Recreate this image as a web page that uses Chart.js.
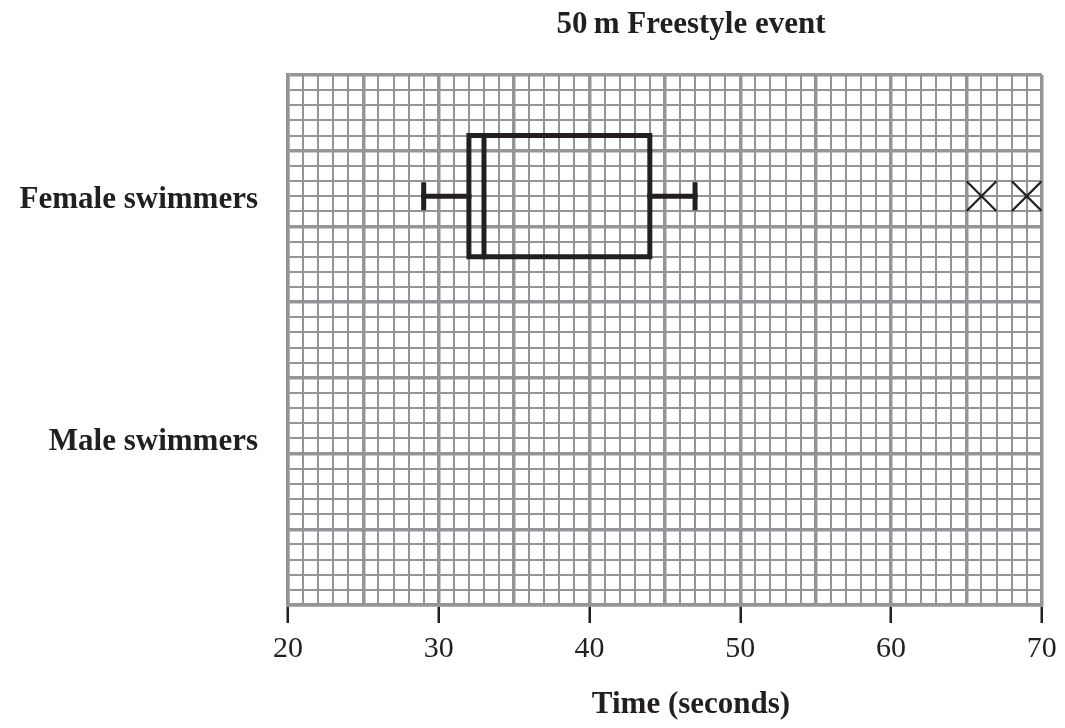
<!DOCTYPE html>
<html>
<head>
<meta charset="utf-8">
<script src="https://cdn.jsdelivr.net/npm/chart.js@4.4.1/dist/chart.umd.min.js"></script>
<style>
  body { margin: 0; background: #fff; }
  #wrap { width: 1065px; height: 728px; }
</style>
</head>
<body>
<div id="wrap"><canvas id="box-plot-chart"></canvas></div>
<script>
// Groups on the vertical axis
const groups = ['Female swimmers', 'Male swimmers'];
// Box plot summaries in seconds (male row is empty in the original)
const lowestTimes = [29, null];
const lowerQuartiles = [32, null];
const medianTimes = [33, null];
const upperQuartiles = [44, null];
const highestTimes = [47, null];
const outlierTimes = [[66, 69], []];
// Labelled times along the bottom
const timeTickLabels = [20, 30, 40, 50, 60, 70];

// layout bits (graph paper rows, where each group sits)
const ROWS = 35;
const groupRow = [8, 24];
const BOX_HALF = 4;
const ink = '#231f20';
const paper = '#939598';
const serif = 'Liberation Serif';

const lineDs = (points, width) => ({
  type: 'scatter', showLine: true, data: points,
  borderColor: ink, borderWidth: width, pointRadius: 0,
  borderJoinStyle: 'miter', borderCapStyle: 'square'
});

const datasets = [];
groups.forEach((g, i) => {
  if (medianTimes[i] == null) return;
  const r = groupRow[i];
  // box
  datasets.push(lineDs([
    {x: lowerQuartiles[i], y: r - BOX_HALF},
    {x: upperQuartiles[i], y: r - BOX_HALF},
    {x: upperQuartiles[i], y: r + BOX_HALF},
    {x: lowerQuartiles[i], y: r + BOX_HALF},
    {x: lowerQuartiles[i], y: r - BOX_HALF}
  ], 5));
  // median
  datasets.push(lineDs([{x: medianTimes[i], y: r - BOX_HALF}, {x: medianTimes[i], y: r + BOX_HALF}], 5));
  // whiskers
  datasets.push(lineDs([{x: lowestTimes[i], y: r}, {x: lowerQuartiles[i], y: r}], 5));
  datasets.push(lineDs([{x: upperQuartiles[i], y: r}, {x: highestTimes[i], y: r}], 5));
  // whisker ends
  datasets.push({
    type: 'scatter', data: [{x: lowestTimes[i], y: r}, {x: highestTimes[i], y: r}],
    pointStyle: 'line', rotation: 90, pointRadius: 14,
    pointBorderColor: ink, pointBorderWidth: 5
  });
  // outliers
  datasets.push({
    type: 'scatter', data: outlierTimes[i].map(t => ({x: t, y: r})),
    pointStyle: 'crossRot', pointRadius: 21,
    pointBorderColor: ink, pointBorderWidth: 2.2
  });
});

// move the two headings so they sit where the original puts them
const TITLE_CENTRE = 691;
const shiftTitles = {
  id: 'shiftTitles',
  afterLayout(chart) {
    chart.boxes.forEach(b => {
      if (b.options && typeof b.options.text === 'string') {
        b.left = 2 * TITLE_CENTRE - b.right;
      }
    });
  }
};

const majorWidth = c => (c.tick && c.tick.value % 5 === 0) ? 3.5 : 2;

const ctx = document.getElementById('box-plot-chart').getContext('2d');
const chart = new Chart(ctx, {
  type: 'scatter',
  data: { datasets: datasets },
  plugins: [shiftTitles],
  options: {
    responsive: true,
    maintainAspectRatio: false,
    animation: false,
    events: [],
    layout: { padding: { left: 0, right: 22, top: 0, bottom: 0 } },
    plugins: {
      legend: { display: false },
      tooltip: { enabled: false },
      title: {
        display: true, text: '50\u2009m Freestyle event', color: ink,
        font: { family: serif, size: 31, weight: 'bold' },
        padding: { top: 6.4, bottom: 31.4 }
      },
      subtitle: {
        display: true, position: 'bottom', text: 'Time (seconds)', color: ink,
        font: { family: serif, size: 31, weight: 'bold' },
        padding: { top: 0, bottom: 4.4 }
      }
    },
    scales: {
      x: {
        type: 'linear', min: 20, max: 70,
        afterFit: s => { s.height = 81.4; },
        ticks: {
          stepSize: 1, autoSkip: false, maxRotation: 0, padding: 8, color: ink,
          font: { family: serif, size: 30 },
          callback: v => timeTickLabels.includes(v) ? String(v) : ''
        },
        grid: {
          color: paper, lineWidth: majorWidth, tickLength: 18, tickWidth: 2.5,
          tickColor: c => timeTickLabels.includes(c.tick.value) ? ink : 'rgba(0,0,0,0)'
        },
        border: { color: paper, width: 3.5 }
      },
      y: {
        type: 'linear', reverse: true, min: 0, max: ROWS,
        afterFit: s => { s.width = 288; },
        ticks: {
          stepSize: 1, autoSkip: false, padding: 30, labelOffset: 4, color: ink,
          font: { family: serif, size: 31, weight: 'bold' },
          callback: v => { const i = groupRow.indexOf(v); return i >= 0 ? groups[i] : ''; }
        },
        grid: { color: paper, lineWidth: majorWidth, drawTicks: false },
        border: { color: paper, width: 3.5 }
      }
    }
  }
});
</script>
</body>
</html>
